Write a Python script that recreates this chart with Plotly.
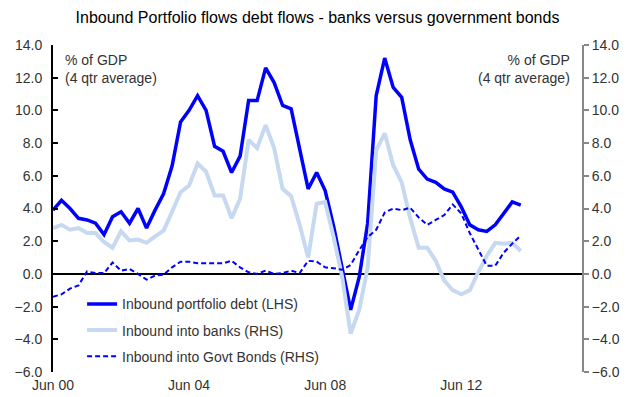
import plotly.graph_objects as go

quarters = list(range(56))
tick_vals = [0, 16, 32, 48]
tick_text = ["Jun 00", "Jun 04", "Jun 08", "Jun 12"]

portfolio_debt = [3.9, 4.5, 4.0, 3.4, 3.3, 3.1, 2.4, 3.5, 3.8, 3.1,
                  4.0, 2.8, 3.9, 4.9, 6.6, 9.3, 10.0, 10.9, 10.0, 7.8,
                  7.5, 6.2, 7.2, 10.6, 10.6, 12.6, 11.7, 10.3, 10.1, 7.7,
                  5.2, 6.2, 5.1, 2.9, 0.4, -2.2, -0.2, 3.1, 10.9, 13.2,
                  11.4, 10.8, 8.2, 6.4, 5.8, 5.6, 5.2, 5.0, 4.1, 3.0,
                  2.7, 2.6, 3.0, 3.7, 4.4, 4.2]

into_banks = [2.8, 3.0, 2.7, 2.8, 2.5, 2.5, 1.95, 1.6, 2.6, 2.05,
              2.1, 1.9, 2.3, 2.65, 3.8, 5.0, 5.4, 6.75, 6.25, 4.8,
              4.8, 3.4, 4.6, 8.2, 7.7, 9.1, 7.7, 5.2, 4.75, 3.0,
              1.0, 4.3, 4.4, 2.25, -0.2, -3.65, -2.2, 0.4, 7.55, 8.6,
              6.65, 5.6, 3.4, 1.6, 1.6, 0.8, -0.4, -1.0, -1.25, -1.0,
              0.1, 1.1, 1.9, 1.85, 1.9, 1.4]

into_govt = [-1.4, -1.25, -0.9, -0.7, 0.15, 0.05, 0.05, 0.7, 0.2, 0.3,
             0.0, -0.35, -0.1, -0.05, 0.4, 0.75, 0.75, 0.65, 0.65, 0.65,
             0.65, 0.8, 0.4, 0.1, 0.0, 0.2, 0.0, 0.05, 0.2, 0.05,
             0.8, 0.75, 0.4, 0.35, 0.25, 0.55, 1.45, 2.25, 2.7, 3.75,
             4.0, 3.9, 4.05, 3.45, 3.0, 3.3, 3.6, 4.25, 3.7, 2.5,
             1.45, 0.5, 0.5, 1.3, 1.85, 2.35]

font_family = "Liberation Sans, Arial, sans-serif"

fig = go.Figure()
# light blue drawn first so it sits behind
fig.add_trace(go.Scatter(x=quarters, y=into_banks, mode="lines",
                         name="Inbound into banks (RHS)", legendgroup="b", legendrank=2,
                         line=dict(color="#c6d9f1", width=4), yaxis="y2"))
fig.add_trace(go.Scatter(x=quarters, y=into_govt, mode="lines",
                         name="Inbound into Govt Bonds (RHS)", legendgroup="c", legendrank=3,
                         line=dict(color="#0000ff", width=2, dash="5px,3px"), yaxis="y2"))
fig.add_trace(go.Scatter(x=quarters, y=portfolio_debt, mode="lines",
                         name="Inbound portfolio debt (LHS)", legendgroup="a", legendrank=1,
                         line=dict(color="#0000ff", width=3.5)))

fig.update_layout(
    width=635, height=397,
    margin=dict(l=53, r=53, t=45, b=25),
    paper_bgcolor="white", plot_bgcolor="white",
    font=dict(family=font_family, size=14, color="#333333"),
    title=dict(text="Inbound Portfolio flows debt flows - banks versus government bonds",
               x=0.5, xanchor="center", y=0.955, yanchor="middle",
               font=dict(size=16, color="#000000", family=font_family)),
    showlegend=True,
    legend=dict(x=0.055, y=0.256, xanchor="left", yanchor="top",
                bgcolor="rgba(0,0,0,0)", traceorder="grouped",
                tracegroupgap=5, font=dict(size=14, color="#333333")),
    xaxis=dict(range=[0, 62.2], tickvals=tick_vals, ticktext=tick_text,
               showgrid=False, zeroline=False, showline=False, ticks="",
               ticklabelstandoff=3, automargin=False,
               tickfont=dict(size=14, color="#333333")),
    yaxis=dict(range=[-6, 14], dtick=2, tickformat=".1f", showgrid=False,
               zeroline=True, zerolinecolor="#000000", zerolinewidth=1.5,
               showline=True, linecolor="#000000", linewidth=2,
               ticks="inside", ticklen=5, tickcolor="#000000", tickwidth=2,
               ticklabelstandoff=6, automargin=False,
               tickfont=dict(size=14, color="#333333")),
    yaxis2=dict(range=[-6, 14], dtick=2, tickformat=".1f", showgrid=False,
                zeroline=False, overlaying="y", side="right",
                showline=True, linecolor="#888888", linewidth=2,
                ticks="outside", ticklen=5, tickcolor="#888888", tickwidth=2,
                automargin=False,
                tickfont=dict(size=14, color="#333333")),
)

fig.add_annotation(x=0.018, y=0.985, xref="paper", yref="paper",
                   text="% of GDP<br>(4 qtr average)", showarrow=False,
                   xanchor="left", yanchor="top", align="left",
                   font=dict(size=14, color="#333333"))
fig.add_annotation(x=0.982, y=0.985, xref="paper", yref="paper",
                   text="% of GDP<br>(4 qtr average)", showarrow=False,
                   xanchor="right", yanchor="top", align="right",
                   font=dict(size=14, color="#333333"))

fig.write_html("out.html")
